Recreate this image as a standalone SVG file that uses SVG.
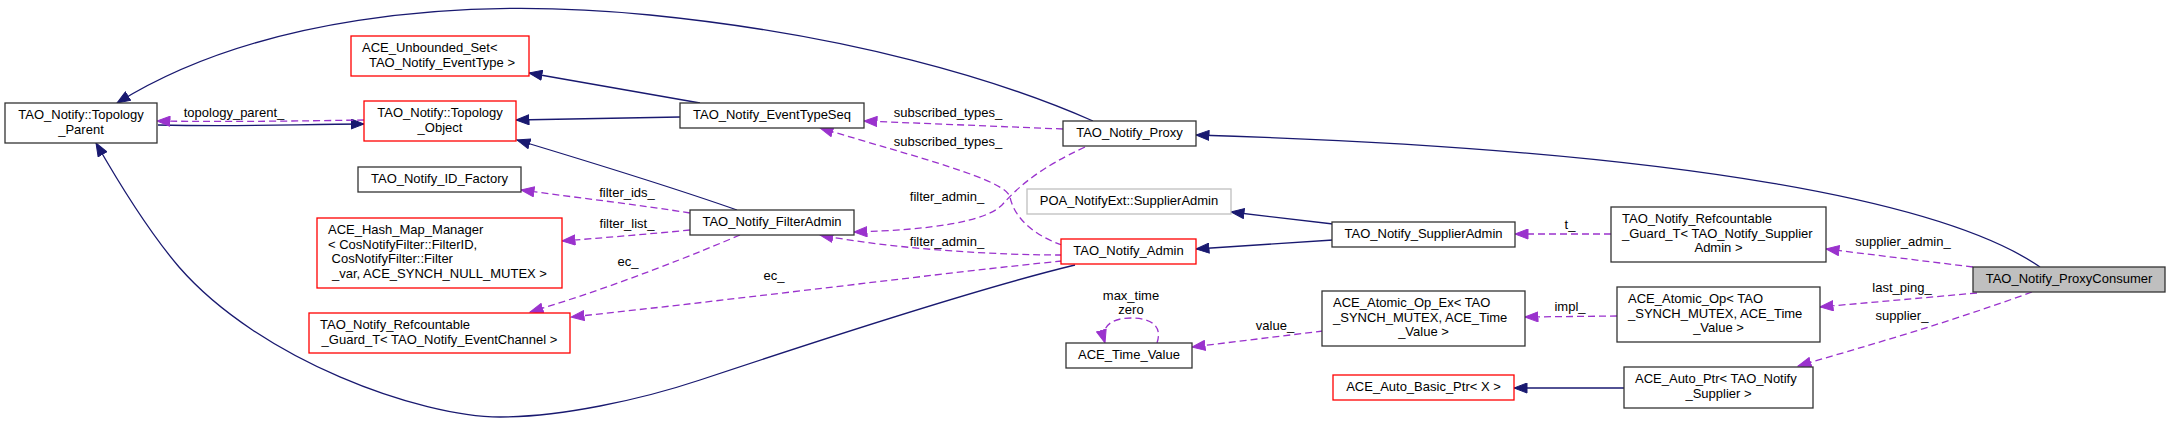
<svg xmlns="http://www.w3.org/2000/svg" width="2171" height="423" viewBox="0 0 2171 423">
<style>
text{font-family:"Liberation Sans",Arial,Helvetica,sans-serif;font-size:13px;fill:#000}
.c{text-anchor:middle}
.box{fill:#fff;stroke:#333;stroke-width:1.3}
.red{fill:#fff;stroke:#ff0000;stroke-width:1.3}
.gray{fill:#fff;stroke:#bfbfbf;stroke-width:1.3}
.self{fill:#bfbfbf;stroke:#333;stroke-width:1.3}
.inh{fill:none;stroke:#191970;stroke-width:1.3;marker-end:url(#an)}
.use{fill:none;stroke:#9a32cd;stroke-width:1.3;stroke-dasharray:7,4;marker-end:url(#ap)}
</style>
<defs>
<marker id="an" markerUnits="userSpaceOnUse" markerWidth="15" markerHeight="11" refX="13.5" refY="5.5" orient="auto" viewBox="0 0 15 11"><path d="M0.5,0.5 L13.5,5.5 L0.5,10.5 z" fill="#191970" stroke="#191970"/></marker>
<marker id="ap" markerUnits="userSpaceOnUse" markerWidth="15" markerHeight="11" refX="13.5" refY="5.5" orient="auto" viewBox="0 0 15 11"><path d="M0.5,0.5 L13.5,5.5 L0.5,10.5 z" fill="#9a32cd" stroke="#9a32cd"/></marker>
</defs>
<rect width="2171" height="423" fill="#fff"/>
<g id="edges">
<path class="inh" d="M2040,267 C1950,205 1700,150 1196,135"/>
<path class="inh" d="M1093,121 C1000,80 850,35 650,15 C450,-5 250,20 117,103"/>
<path class="inh" d="M158,125 C250,127 300,124 364,124"/>
<path class="inh" d="M700,103 L529,73"/>
<path class="inh" d="M680,117 L516,120"/>
<path class="inh" d="M737,210 C680,190 600,165 517,140"/>
<path class="inh" d="M1075,265 C1000,283 850,330 700,380 C640,400 560,417 500,417 C420,417 260,360 179,267 C150,233 120,185 96,143"/>
<path class="inh" d="M1333,224 L1231,212"/>
<path class="inh" d="M1333,240 L1196,249"/>
<path class="inh" d="M1624,388 L1514,388"/>
<path class="use" d="M364,120 C300,121 230,122 157,121"/>
<path class="use" d="M690,213 C640,205 580,198 521,190"/>
<path class="use" d="M690,230 C650,234 600,238 562,241"/>
<path class="use" d="M740,235 C700,252 620,285 530,312"/>
<path class="use" d="M1062,261 C950,272 750,298 571,317"/>
<path class="use" d="M1062,255 C1000,255 900,250 820,235"/>
<path class="use" d="M1085,147 C1040,168 1020,185 1002,205 C985,222 930,230 854,232"/>
<path class="use" d="M1062,245 C1035,236 1014,218 1010,197 C1006,180 920,158 820,128"/>
<path class="use" d="M1063,129 L864,121"/>
<path class="use" d="M1157,343 C1163,325 1150,318 1131,318 C1112,318 1100,326 1105,343"/>
<path class="use" d="M1323,331 L1192,347"/>
<path class="use" d="M1617,316 L1525,317"/>
<path class="use" d="M1611,234 L1515,234"/>
<path class="use" d="M1973,267 L1826,249"/>
<path class="use" d="M1977,293 L1820,307"/>
<path class="use" d="M2032,292 C1950,322 1870,345 1798,366"/>
<text class="c" x="234" y="117">topology_parent_</text>
<text class="c" x="627" y="197">filter_ids_</text>
<text class="c" x="627" y="228">filter_list_</text>
<text class="c" x="628" y="266">ec_</text>
<text class="c" x="774" y="280">ec_</text>
<text class="c" x="948" y="117">subscribed_types_</text>
<text class="c" x="948" y="146">subscribed_types_</text>
<text class="c" x="947" y="201">filter_admin_</text>
<text class="c" x="947" y="246">filter_admin_</text>
<text class="c" x="1131" y="300">max_time</text>
<text class="c" x="1131" y="314">zero</text>
<text class="c" x="1275" y="330">value_</text>
<text class="c" x="1570" y="229">t_</text>
<text class="c" x="1570" y="311">impl_</text>
<text class="c" x="1903" y="246">supplier_admin_</text>
<text class="c" x="1902" y="292">last_ping_</text>
<text class="c" x="1902" y="320">supplier_</text>
</g>
<g id="n_topology_parent"><rect class="box" x="5" y="103" width="152" height="40"/><text class="c" x="81" y="119.3">TAO_Notify::Topology</text><text class="c" x="81" y="133.7">_Parent</text></g>
<g id="n_unbounded_set"><rect class="red" x="351" y="36" width="178" height="40"/><text x="362" y="52.3">ACE_Unbounded_Set&lt;</text><text class="c" x="442" y="66.7">TAO_Notify_EventType &gt;</text></g>
<g id="n_topology_object"><rect class="red" x="364" y="101" width="152" height="40"/><text class="c" x="440" y="117.3">TAO_Notify::Topology</text><text class="c" x="440" y="131.7">_Object</text></g>
<g id="n_id_factory"><rect class="box" x="358" y="167" width="163" height="25"/><text class="c" x="439.5" y="183.3">TAO_Notify_ID_Factory</text></g>
<g id="n_hash_map"><rect class="red" x="317" y="218" width="245" height="70"/><text x="328" y="234.3">ACE_Hash_Map_Manager</text><text x="328" y="248.7">&lt; CosNotifyFilter::FilterID,</text><text x="331.6" y="263.1">CosNotifyFilter::Filter</text><text class="c" x="439.5" y="277.5">_var, ACE_SYNCH_NULL_MUTEX &gt;</text></g>
<g id="n_refcount_ec"><rect class="red" x="309" y="313" width="261" height="40"/><text x="320" y="329.3">TAO_Notify_Refcountable</text><text class="c" x="439.5" y="343.7">_Guard_T&lt; TAO_Notify_EventChannel &gt;</text></g>
<g id="n_eventtypeseq"><rect class="box" x="680" y="103" width="184" height="25"/><text class="c" x="772" y="119.3">TAO_Notify_EventTypeSeq</text></g>
<g id="n_filteradmin"><rect class="box" x="690" y="210" width="164" height="25"/><text class="c" x="772" y="226.3">TAO_Notify_FilterAdmin</text></g>
<g id="n_proxy"><rect class="box" x="1063" y="121" width="133" height="25"/><text class="c" x="1129.5" y="137.3">TAO_Notify_Proxy</text></g>
<g id="n_poa_supplieradmin"><rect class="gray" x="1027" y="189" width="204" height="25"/><text class="c" x="1129" y="205.3">POA_NotifyExt::SupplierAdmin</text></g>
<g id="n_admin"><rect class="red" x="1061" y="239" width="135" height="25"/><text class="c" x="1128.5" y="255.3">TAO_Notify_Admin</text></g>
<g id="n_time_value"><rect class="box" x="1066" y="343" width="126" height="25"/><text class="c" x="1129" y="359.3">ACE_Time_Value</text></g>
<g id="n_supplieradmin"><rect class="box" x="1332" y="222" width="183" height="25"/><text class="c" x="1423.5" y="238.3">TAO_Notify_SupplierAdmin</text></g>
<g id="n_atomic_op_ex"><rect class="box" x="1322" y="291" width="203" height="55"/><text x="1333" y="307.3">ACE_Atomic_Op_Ex&lt; TAO</text><text x="1333" y="321.7">_SYNCH_MUTEX, ACE_Time</text><text class="c" x="1423.5" y="336.1">_Value &gt;</text></g>
<g id="n_auto_basic_ptr"><rect class="red" x="1333" y="375" width="181" height="25"/><text class="c" x="1423.5" y="391.3">ACE_Auto_Basic_Ptr&lt; X &gt;</text></g>
<g id="n_refcount_supplier"><rect class="box" x="1611" y="207" width="215" height="55"/><text x="1622" y="223.3">TAO_Notify_Refcountable</text><text x="1622" y="237.7">_Guard_T&lt; TAO_Notify_Supplier</text><text class="c" x="1718.5" y="252.1">Admin &gt;</text></g>
<g id="n_atomic_op"><rect class="box" x="1617" y="287" width="203" height="55"/><text x="1628" y="303.3">ACE_Atomic_Op&lt; TAO</text><text x="1628" y="317.7">_SYNCH_MUTEX, ACE_Time</text><text class="c" x="1718.5" y="332.1">_Value &gt;</text></g>
<g id="n_auto_ptr"><rect class="box" x="1624" y="367" width="189" height="41"/><text x="1635" y="383.3">ACE_Auto_Ptr&lt; TAO_Notify</text><text class="c" x="1718.5" y="397.7">_Supplier &gt;</text></g>
<g id="n_proxyconsumer"><rect class="self" x="1973" y="267" width="192" height="25"/><text class="c" x="2069" y="283.3">TAO_Notify_ProxyConsumer</text></g>
</svg>
